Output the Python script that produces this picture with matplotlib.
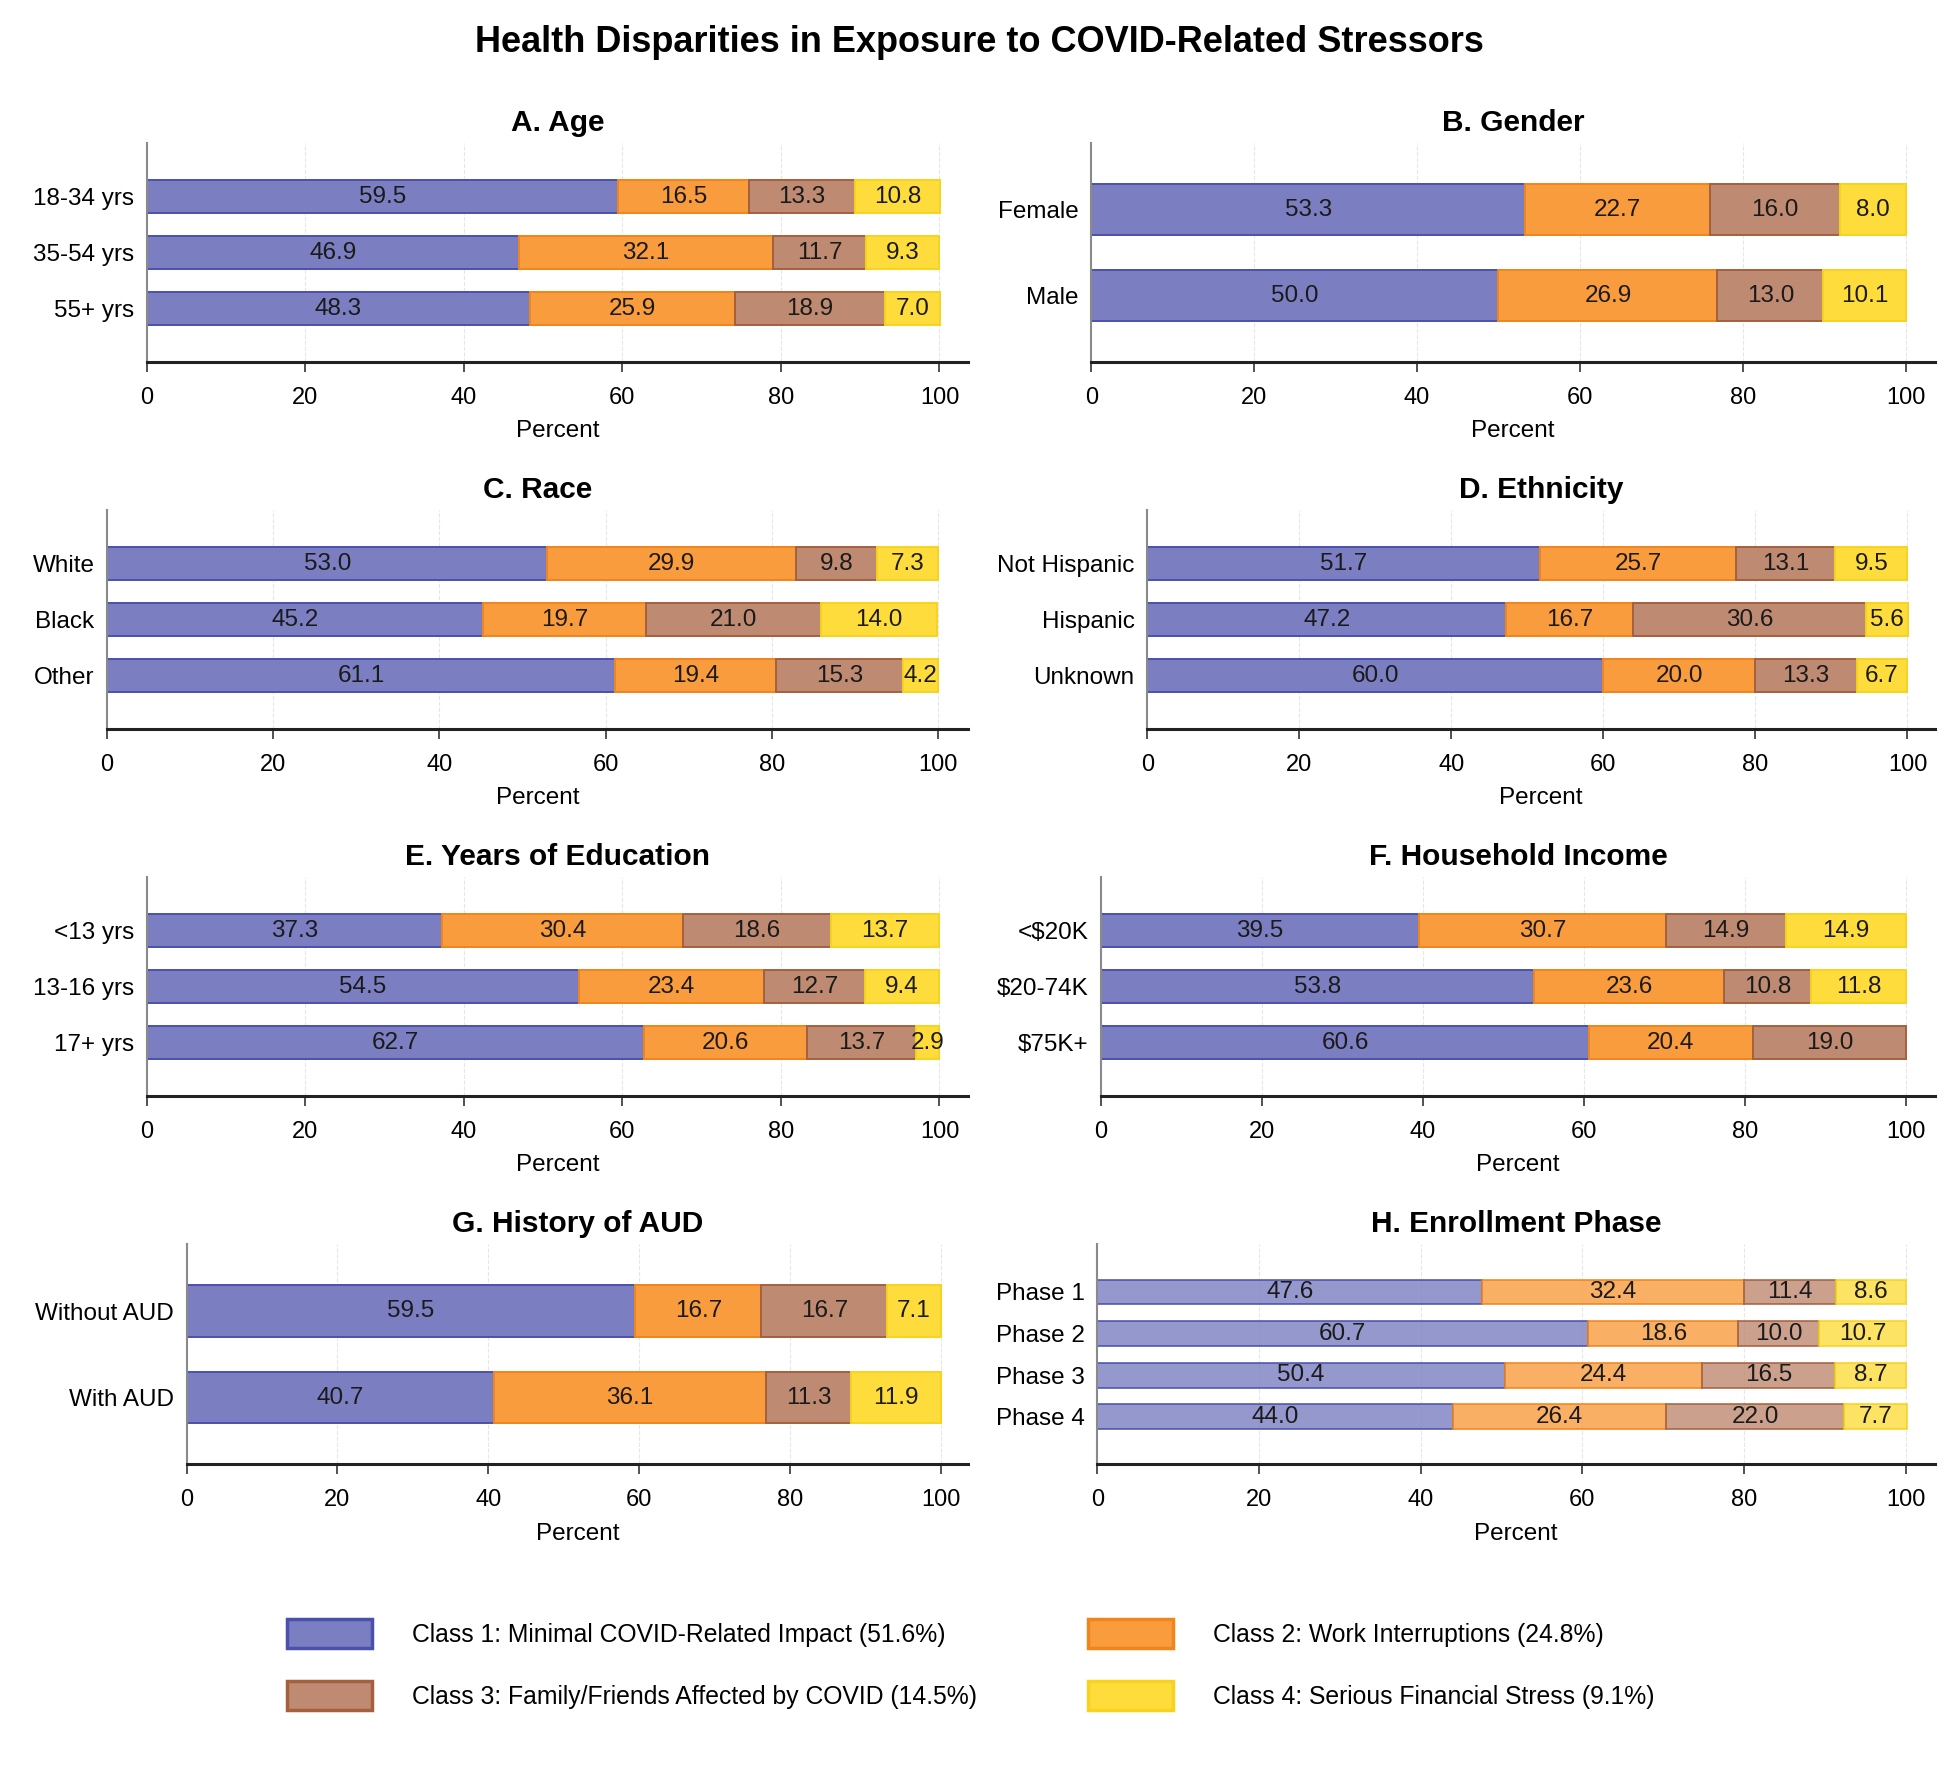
import matplotlib
matplotlib.use('Agg')
import matplotlib.pyplot as plt
from matplotlib.patches import Patch
import numpy as np

plt.rcParams['font.family'] = ['Liberation Sans', 'DejaVu Sans']

#%% Data
class_names = ['Class 1: Minimal COVID-Related Impact (51.6%)',
               'Class 2: Work Interruptions (24.8%)',
               'Class 3: Family/Friends Affected by COVID (14.5%)',
               'Class 4: Serious Financial Stress (9.1%)']

age_labels = ['18-34 yrs', '35-54 yrs', '55+ yrs']
age_vals = [[59.5, 16.5, 13.3, 10.8], [46.9, 32.1, 11.7, 9.3], [48.3, 25.9, 18.9, 7.0]]

gender_labels = ['Female', 'Male']
gender_vals = [[53.3, 22.7, 16.0, 8.0], [50.0, 26.9, 13.0, 10.1]]

race_labels = ['White', 'Black', 'Other']
race_vals = [[53.0, 29.9, 9.8, 7.3], [45.2, 19.7, 21.0, 14.0], [61.1, 19.4, 15.3, 4.2]]

eth_labels = ['Not Hispanic', 'Hispanic', 'Unknown']
eth_vals = [[51.7, 25.7, 13.1, 9.5], [47.2, 16.7, 30.6, 5.6], [60.0, 20.0, 13.3, 6.7]]

edu_labels = ['<13 yrs', '13-16 yrs', '17+ yrs']
edu_vals = [[37.3, 30.4, 18.6, 13.7], [54.5, 23.4, 12.7, 9.4], [62.7, 20.6, 13.7, 2.9]]

inc_labels = [r'<\$20K', r'\$20-74K', r'\$75K+']
inc_vals = [[39.5, 30.7, 14.9, 14.9], [53.8, 23.6, 10.8, 11.8], [60.6, 20.4, 19.0, 0.0]]

aud_labels = ['Without AUD', 'With AUD']
aud_vals = [[59.5, 16.7, 16.7, 7.1], [40.7, 36.1, 11.3, 11.9]]

phase_labels = ['Phase 1', 'Phase 2', 'Phase 3', 'Phase 4']
phase_vals = [[47.6, 32.4, 11.4, 8.6], [60.7, 18.6, 10.0, 10.7],
              [50.4, 24.4, 16.5, 8.7], [44.0, 26.4, 22.0, 7.7]]

#%% Style
fills = ['#7b7fc1', '#f89c3e', '#be8a72', '#fddc3c']
edges = ['#4b50ad', '#f0851c', '#a5603e', '#f7d21e']

W, H = 1568.0, 1425.0  # layout measured on the shrunk reference
rows = [(115, 291), (410, 586), (705, 881), (1000, 1177)]
half_range = {2: 1.275, 3: 1.955, 4: 2.65}

panels = [
    ('A. Age', age_labels, age_vals, 118, 778, 0, 1.0),
    ('B. Gender', gender_labels, gender_vals, 877, 1555, 0, 1.0),
    ('C. Race', race_labels, race_vals, 86, 778, 1, 1.0),
    ('D. Ethnicity', eth_labels, eth_vals, 922, 1555, 1, 1.0),
    ('E. Years of Education', edu_labels, edu_vals, 118, 778, 2, 1.0),
    ('F. Household Income', inc_labels, inc_vals, 885, 1555, 2, 1.0),
    ('G. History of AUD', aud_labels, aud_vals, 150, 778, 3, 1.0),
    ('H. Enrollment Phase', phase_labels, phase_vals, 882, 1555, 3, 0.8),
]

fig = plt.figure(figsize=(19.51, 17.73), dpi=100)
fig.text(0.502, 1 - 34 / H, 'Health Disparities in Exposure to COVID-Related Stressors',
         ha='center', va='center', fontsize=26, fontweight='bold')

for title, labels, vals, left, right, r, alpha in panels:
    top, bottom = rows[r]
    ax = fig.add_axes([left / W, 1 - bottom / H, (right - left) / W, (bottom - top) / H])
    vals = np.array(vals)
    y = np.arange(len(labels))
    start = np.zeros(len(labels))
    for k in range(4):
        lw = [1.4 if v > 0 else 0 for v in vals[:, k]]
        bars = ax.barh(y, vals[:, k], left=start, height=0.6, color=fills[k],
                       edgecolor=edges[k], linewidth=lw, alpha=alpha, zorder=2)
        txt = ['%.1f' % v if v > 0 else '' for v in vals[:, k]]
        ax.bar_label(bars, labels=txt, label_type='center', fontsize=17.5, color='#1a1a1a')
        start = start + vals[:, k]
    n = len(labels)
    c = (n - 1) / 2.0
    ax.set_ylim(c + half_range[n], c - half_range[n])
    ax.set_xlim(0, 103.6)
    ax.set_yticks(y)
    ax.set_yticklabels(labels, fontsize=17.5)
    ax.set_xticks([0, 20, 40, 60, 80, 100])
    ax.tick_params(axis='x', labelsize=17, length=7, width=1.2, pad=11, color='#333333')
    ax.tick_params(axis='y', length=0, pad=9)
    ax.set_xlabel('Percent', fontsize=17.5, labelpad=8)
    ax.set_title(title, fontsize=21.5, fontweight='bold', pad=9)
    ax.xaxis.grid(True, color='#e6e6e6', linestyle='--', linewidth=0.8)
    ax.set_axisbelow(True)
    for s in ['top', 'right']:
        ax.spines[s].set_visible(False)
    ax.spines['left'].set_color('#8a8a8a')
    ax.spines['left'].set_linewidth(1.5)
    ax.spines['bottom'].set_color('#222222')
    ax.spines['bottom'].set_linewidth(2.2)

handles = [Patch(facecolor=fills[k], edgecolor=edges[k], linewidth=2.5) for k in range(4)]
order = [0, 2, 1, 3]
fig.legend([handles[i] for i in order], [class_names[i] for i in order],
           loc='center left', bbox_to_anchor=(221 / W, 1 - 1338 / H), ncol=2,
           frameon=False, fontsize=17.8, handlelength=3.44, handleheight=1.43,
           handletextpad=1.6, columnspacing=4.5, labelspacing=1.35, borderpad=0)

fig.savefig('out.png', dpi=100)
